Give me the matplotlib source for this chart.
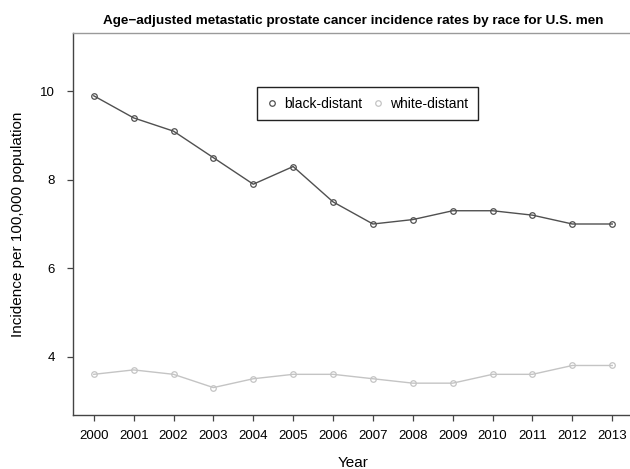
import matplotlib.pyplot as plt

years = list(range(2000, 2014))
black_distant = [9.9, 9.4, 9.1, 8.5, 7.9, 8.3, 7.5, 7.0, 7.1, 7.3, 7.3, 7.2, 7.0, 7.0]
white_distant = [3.6, 3.7, 3.6, 3.3, 3.5, 3.6, 3.6, 3.5, 3.4, 3.4, 3.6, 3.6, 3.8, 3.8]

plt.rcParams["font.family"] = ["Liberation Sans", "DejaVu Sans"]

fig = plt.figure(figsize=(6.3, 4.69), dpi=100)
ax = fig.add_axes([73 / 630, 1 - 415 / 469, 560 / 630, 382 / 469])

ax.plot(years, black_distant, color="#505050", lw=1.0, marker="o", ms=4,
        mfc="none", mec="#505050", mew=0.9, label="black-distant")
ax.plot(years, white_distant, color="#c4c4c4", lw=1.0, marker="o", ms=4,
        mfc="none", mec="#c4c4c4", mew=0.9, label="white-distant")

ax.set_xlim(1999.48, 2013.52)
ax.set_ylim(2.68, 11.32)
ax.set_xticks(years)
ax.set_xticklabels([str(y) for y in years])
ax.set_yticks([4, 6, 8, 10])

ax.tick_params(direction="out", length=4, width=0.9, color="#444444",
               labelsize=9.5, pad=7)
ax.tick_params(axis="y", pad=9)

for side in ["left", "bottom"]:
    ax.spines[side].set_color("#444444")
    ax.spines[side].set_linewidth(1.0)
for side in ["top", "right"]:
    ax.spines[side].set_color("#9a9a9a")
    ax.spines[side].set_linewidth(1.0)

ax.set_xlabel("Year", fontsize=11, labelpad=10)
ax.set_ylabel("Incidence per 100,000 population", fontsize=11, labelpad=11)
# title is centred over the plot region, like R does
fig.text(353 / 630, 1 - 21 / 469, "Age\u2212adjusted metastatic prostate cancer incidence rates by race for U.S. men",
         ha="center", va="center", fontsize=9.7, fontweight="bold")

leg = ax.legend(ncol=2, loc="center", bbox_to_anchor=(367.5 / 630, 1 - 103.5 / 469),
                bbox_transform=fig.transFigure, fancybox=False, framealpha=1,
                edgecolor="#222222", fontsize=10, handlelength=0.8,
                handletextpad=0.5, columnspacing=0.7, borderpad=0.7,
                borderaxespad=0)
leg.get_frame().set_linewidth(1.0)
for line in leg.get_lines():
    line.set_linestyle("none")

fig.savefig("out.png", dpi=100)
